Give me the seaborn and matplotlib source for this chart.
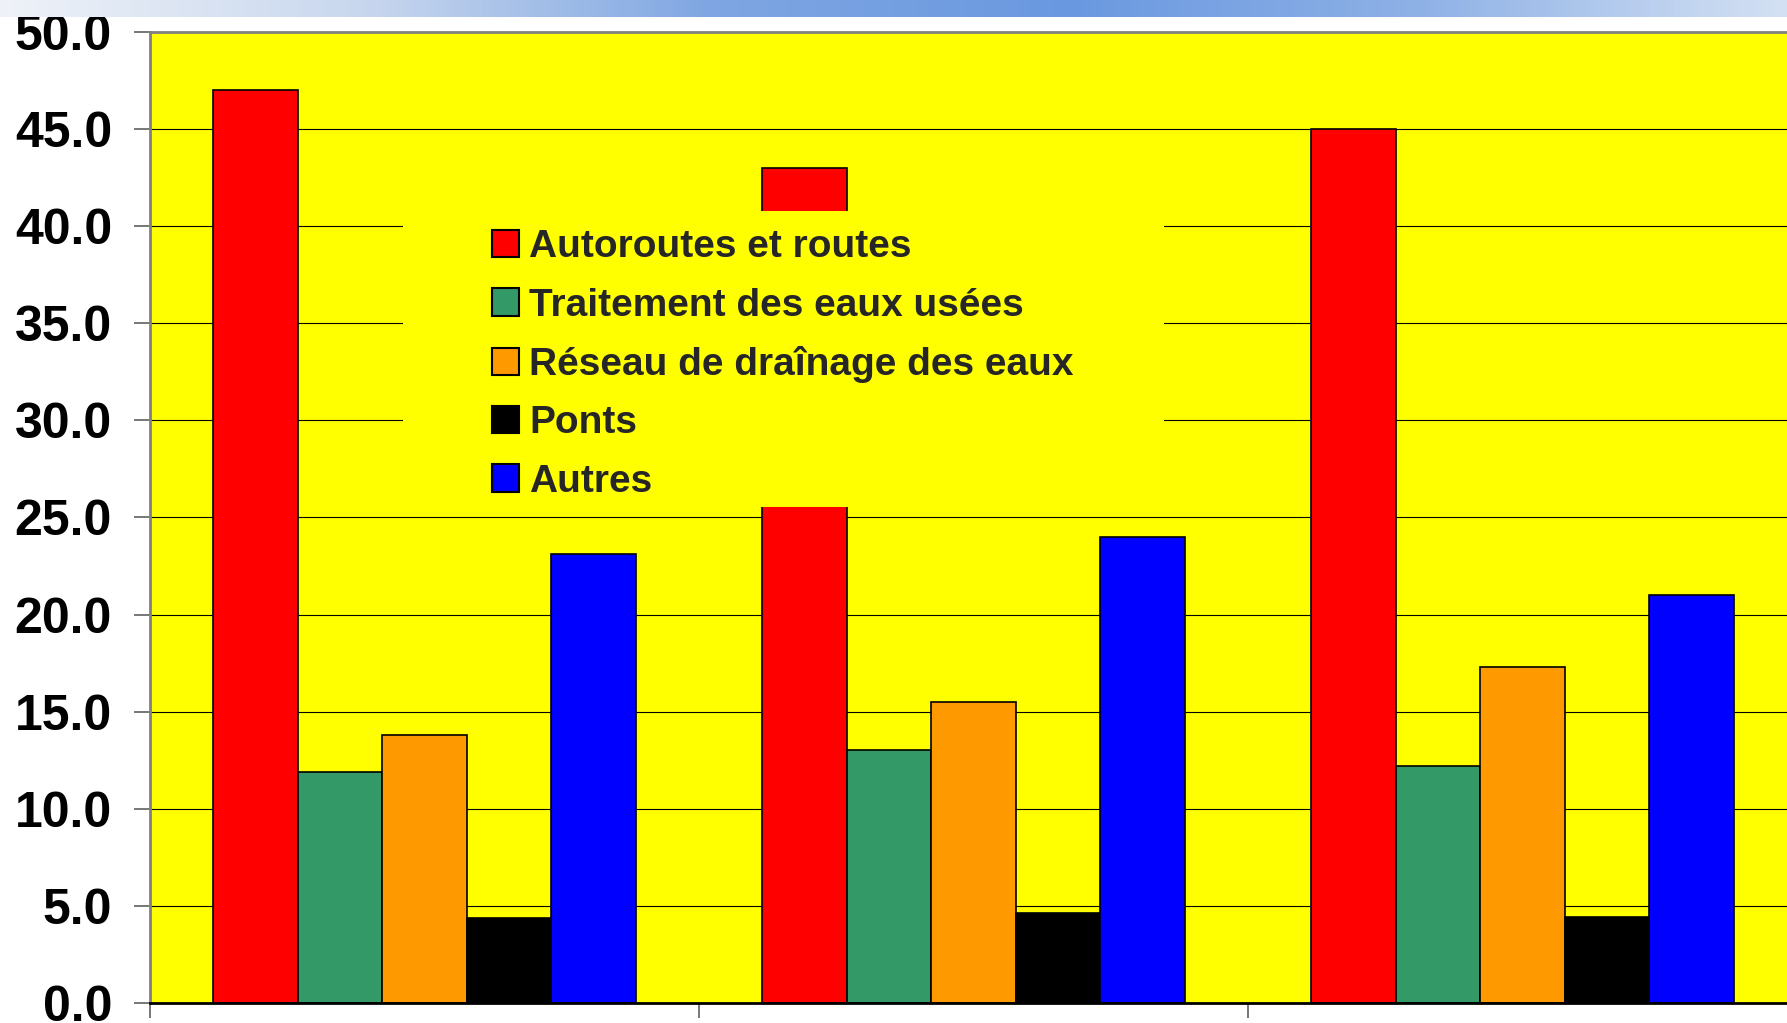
import numpy as np
import pandas as pd
import seaborn as sns
import matplotlib.pyplot as plt
from matplotlib.patches import Patch, Rectangle
from matplotlib.colors import LinearSegmentedColormap

# data (groups have no visible labels)
groupes = ["Groupe 1", "Groupe 2", "Groupe 3"]
types = ["Autoroutes et routes", "Traitement des eaux usées",
         "Réseau de draînage des eaux", "Ponts", "Autres"]
autoroutes = [47.0, 43.0, 45.0]
eaux_usees = [11.9, 13.0, 12.2]
drainage = [13.8, 15.5, 17.3]
ponts = [4.35, 4.65, 4.45]
autres = [23.1, 24.0, 21.0]
couleurs = ["#FF0000", "#339966", "#FF9900", "#000000", "#0000FF"]

series = [autoroutes, eaux_usees, drainage, ponts, autres]
rows = []
for t, vals in zip(types, series):
    for g, v in zip(groupes, vals):
        rows.append({"groupe": g, "type": t, "valeur": v})
df = pd.DataFrame(rows)

sns.set_theme(style="white")
plt.rcParams["font.family"] = ["Liberation Sans", "DejaVu Sans"]

fig = plt.figure(figsize=(17.87, 10.23), dpi=100)
ax = fig.add_axes([0.0840, 0.0196, 0.9217, 0.9492])

sns.barplot(data=df, x="groupe", y="valeur", hue="type", hue_order=types,
            palette=couleurs, width=0.77, gap=0, edgecolor="black",
            linewidth=1.2, saturation=1, legend=False, ax=ax)

ax.set_facecolor("#FFFF00")
ax.set_xlim(-0.5, 2.5)
ax.set_ylim(0, 50)
ax.set_yticks(np.arange(0, 50.1, 5))
ax.set_yticklabels([f"{v:.1f}" for v in np.arange(0, 50.1, 5)],
                   fontsize=36, fontweight="bold", color="black")
ax.set_axisbelow(True)
ax.yaxis.grid(True, color="black", linewidth=0.8)
ax.xaxis.grid(False)
ax.set_xlabel("")
ax.set_ylabel("")

# x ticks at group boundaries, no labels
ax.set_xticks([])
ax.set_xticks([-0.5, 0.5, 1.5, 2.5], minor=True)
ax.tick_params(axis="x", which="minor", direction="out", length=11,
               width=1.2, color="#606060", bottom=True)
ax.tick_params(axis="y", direction="out", length=11.5, width=1.2,
               color="#606060", left=True, pad=16)

for side in ["left", "top"]:
    ax.spines[side].set_color("#808080")
    ax.spines[side].set_linewidth(2)
ax.spines["bottom"].set_color("black")
ax.spines["bottom"].set_linewidth(2)
ax.spines["right"].set_visible(False)

# legend area (hides part of the plot like the original)
ax.add_patch(Rectangle((0.1536, 0.5108), 0.462, 0.305, transform=ax.transAxes,
                       facecolor="#FFFF00", edgecolor="none", zorder=5))
handles = [Patch(facecolor=c, edgecolor="black", linewidth=1.5) for c in couleurs]
fig.legend(handles, types, loc="upper left", bbox_to_anchor=(0.2753, 0.776),
           frameon=False, prop={"size": 28, "weight": "bold"},
           handlelength=0.7, handleheight=0.7, handletextpad=0.26,
           labelspacing=0.575, borderpad=0, borderaxespad=0)

# blue banner strip at the top of the slide
band = fig.add_axes([0, 1 - 17 / 1023, 1, 17 / 1023])
cmap = LinearSegmentedColormap.from_list(
    "band", ["#eef2f8", "#c9d7ee", "#7ea6e2", "#6a98e0", "#8fb2e6", "#d3e0f3"])
band.imshow(np.linspace(0, 1, 300)[None, :], aspect="auto", cmap=cmap)
band.axis("off")

fig.savefig("out.png", dpi=100, facecolor="white")
